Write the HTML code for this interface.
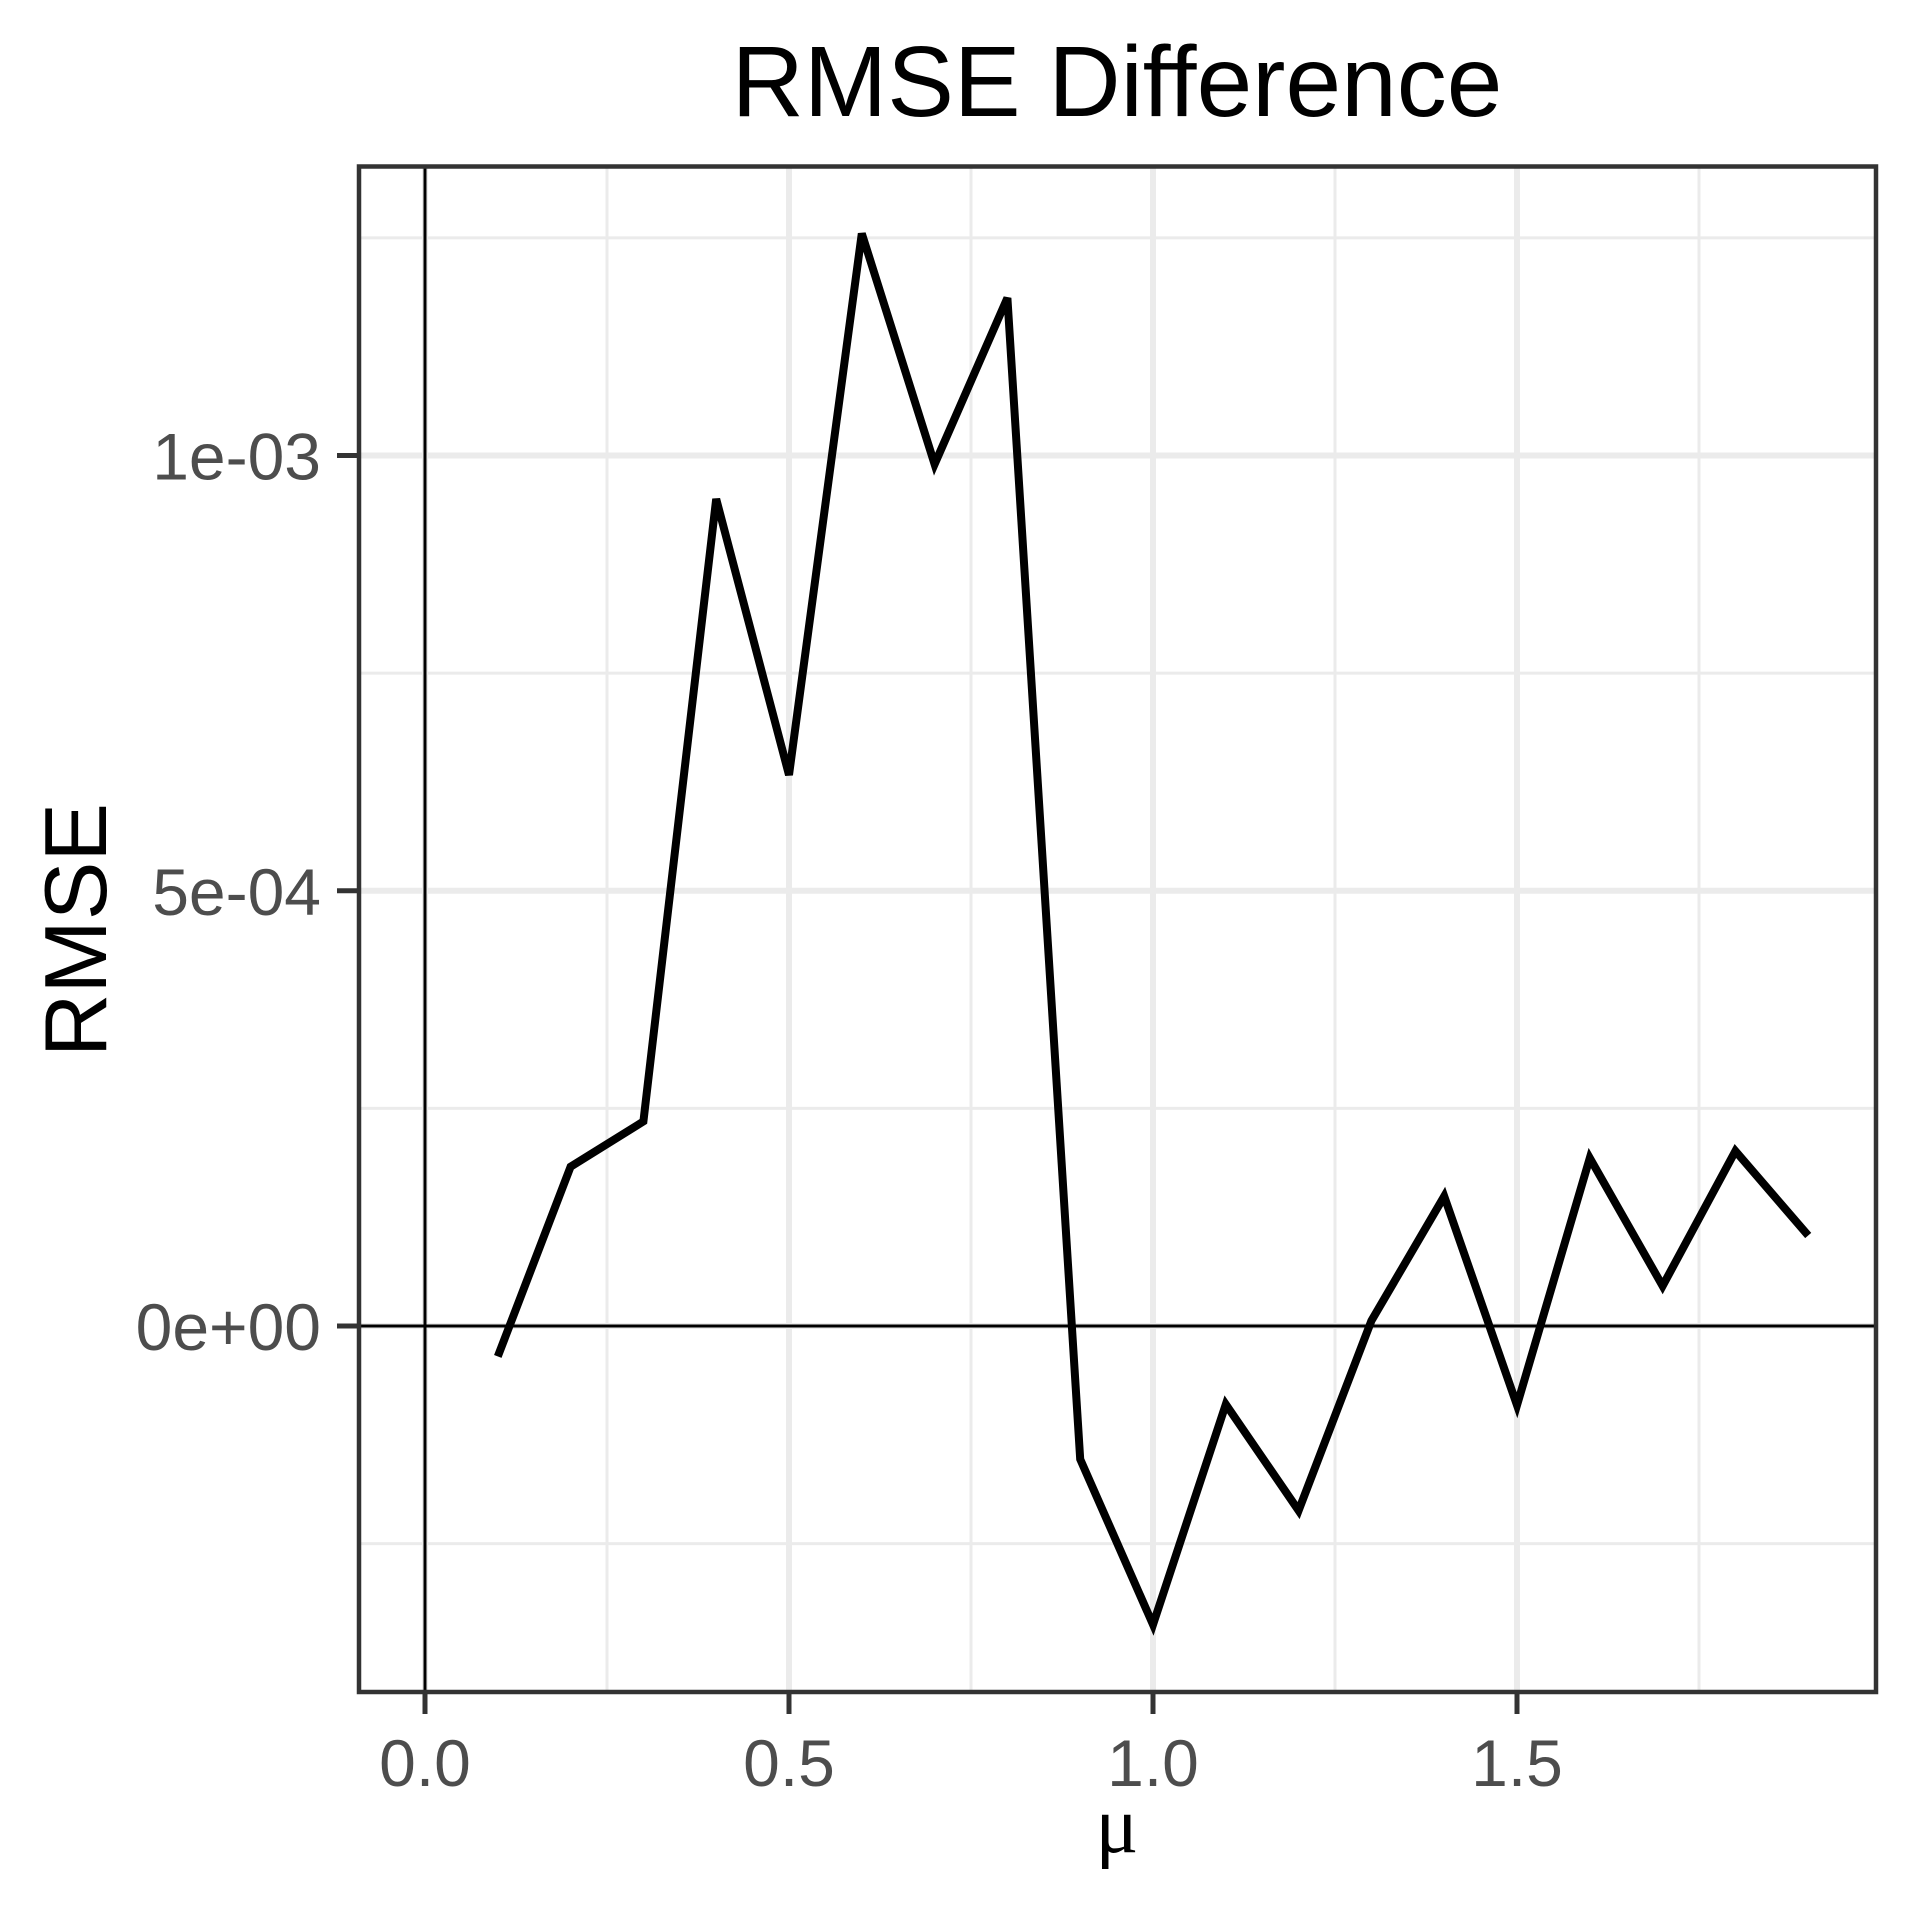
<!DOCTYPE html>
<html><head><meta charset="utf-8"><style>
html,body{margin:0;padding:0;background:#fff;}
svg{display:block;}
</style></head><body>
<svg id="chart" width="1920" height="1920" viewBox="0 0 1920 1920" xmlns="http://www.w3.org/2000/svg">
<rect width="1920" height="1920" fill="#fff"/>
<g id="grid"></g>
<g id="zero"></g>
<g id="series"></g>
<rect x="359" y="166.5" width="1517" height="1525.5" fill="none" stroke="#333" stroke-width="4.5"/>
<g id="axes"></g>
<text x="1117" y="116" text-anchor="middle" font-family="Liberation Sans, sans-serif" font-size="100" fill="#000">RMSE Difference</text>
<text transform="translate(106,930) rotate(-90)" text-anchor="middle" font-family="Liberation Sans, sans-serif" font-size="88" fill="#000">RMSE</text>
<text x="1117" y="1852" text-anchor="middle" font-family="Liberation Serif, serif" font-size="80" fill="#000">μ</text>
</svg>
<script>
const xValues=[0.1,0.2,0.3,0.4,0.5,0.6,0.7,0.8,0.9,1.0,1.1,1.2,1.3,1.4,1.5,1.6,1.7,1.8,1.9];
const yValues=[-0.35e-4,1.83e-4,2.35e-4,9.5e-4,6.33e-4,12.55e-4,9.9e-4,11.81e-4,-1.53e-4,-3.43e-4,-0.9e-4,-2.12e-4,0.06e-4,1.49e-4,-0.91e-4,1.93e-4,0.46e-4,2.01e-4,1.04e-4];
const xTicks=[0,0.5,1.0,1.5];
const xTickLabels=["0.0","0.5","1.0","1.5"];
const xMinor=[0.25,0.75,1.25,1.75];
const yTicks=[0,5e-4,1e-3];
const yTickLabels=["0e+00","5e-04","1e-03"];
const yMinor=[-2.5e-4,2.5e-4,7.5e-4,12.5e-4];
const X0=359,X1=1876,Y0=166.5,Y1=1692;
function sx(v){return 425+v*728;}
function sy(v){return 1326-v*870500;}
const NS="http://www.w3.org/2000/svg";
function mk(parent,tag,attrs){const e=document.createElementNS(NS,tag);for(const k in attrs)e.setAttribute(k,attrs[k]);parent.appendChild(e);return e;}
const grid=document.getElementById('grid'),axes=document.getElementById('axes'),zero=document.getElementById('zero'),series=document.getElementById('series');
yMinor.forEach(v=>{const l=mk(grid,'line',{x1:X0,x2:X1,y1:sy(v),y2:sy(v),stroke:'#ebebeb','stroke-width':3});

});
xMinor.forEach(v=>{const l=mk(grid,'line',{x1:sx(v),x2:sx(v),y1:Y0,y2:Y1,stroke:'#ebebeb','stroke-width':3});

});
yTicks.forEach((v,i)=>{const l=mk(grid,'line',{x1:X0,x2:X1,y1:sy(v),y2:sy(v),stroke:'#ebebeb','stroke-width':6});


const t=mk(axes,'line',{x1:X0-22,x2:X0,y1:sy(v),y2:sy(v),stroke:'#333','stroke-width':5});


const tx=mk(axes,'text',{x:X0-38,y:sy(v)+24,'text-anchor':'end','font-family':'Liberation Sans, sans-serif','font-size':66,fill:'#4d4d4d'});
tx.textContent=yTickLabels[i];

});
xTicks.forEach((v,i)=>{const l=mk(grid,'line',{x1:sx(v),x2:sx(v),y1:Y0,y2:Y1,stroke:'#ebebeb','stroke-width':6});


const t=mk(axes,'line',{x1:sx(v),x2:sx(v),y1:Y1,y2:Y1+22,stroke:'#333','stroke-width':5});


const tx=mk(axes,'text',{x:sx(v),y:1786,'text-anchor':'middle','font-family':'Liberation Sans, sans-serif','font-size':66,fill:'#4d4d4d'});
tx.textContent=xTickLabels[i];

});
const hz=mk(zero,'line',{x1:X0,x2:X1,y1:sy(0),y2:sy(0),stroke:'#000','stroke-width':3});


const vz=mk(zero,'line',{x1:sx(0),x2:sx(0),y1:Y0,y2:Y1,stroke:'#000','stroke-width':3});


const pts=xValues.map((x,i)=>sx(x)+','+sy(yValues[i])).join(' ');
const pl=mk(series,'polyline',{points:pts,fill:'none',stroke:'#000','stroke-width':8,'stroke-linejoin':'miter','stroke-miterlimit':4});


</script>
</body></html>
